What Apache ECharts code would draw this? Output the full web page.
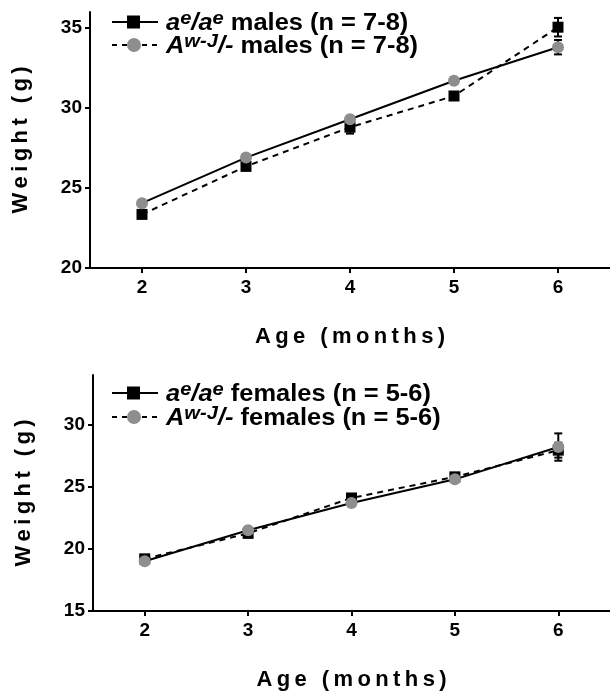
<!DOCTYPE html>
<html>
<head>
<meta charset="utf-8">
<script src="https://cdn.jsdelivr.net/npm/echarts@6/dist/echarts.min.js"></script>
<style>
  html, body { margin: 0; padding: 0; background: #fff; }
  #main { width: 610px; height: 692px; }
</style>
</head>
<body>
<div id="main"></div>
<script>
// ages in months
var ages = [2, 3, 4, 5, 6];

// males (n = 7-8)
var maleAe = [23.35, 26.35, 28.8, 30.75, 35.05];
var maleAeErr = [0.2, 0.2, 0.4, 0.2, 0.58];
var maleAwj = [24.05, 26.9, 29.3, 31.7, 33.8];
var maleAwjErr = [0.2, 0.2, 0.2, 0.2, 0.45];

// females (n = 5-6)
var femaleAe = [19.2, 21.25, 24.1, 25.8, 27.95];
var femaleAeErr = [0.2, 0.2, 0.2, 0.2, 0.6];
var femaleAwj = [19.0, 21.5, 23.7, 25.6, 28.2];
var femaleAwjErr = [0.2, 0.2, 0.2, 0.2, 1.1];

var xTicks = [2, 3, 4, 5, 6];
var maleYTicks = [20, 25, 30, 35];
var femaleYTicks = [15, 20, 25, 30];

var FONT = 'Liberation Sans';
var GREY = '#8e8e8e';

function pairs(ys) {
  return ages.map(function (a, i) { return [a, ys[i]]; });
}
function errData(ys, errs) {
  return ages.map(function (a, i) { return [a, ys[i] - errs[i], ys[i] + errs[i]]; });
}

function errorSeries(gi, ys, errs) {
  return {
    type: 'custom',
    xAxisIndex: gi, yAxisIndex: gi,
    z: 3,
    data: errData(ys, errs),
    renderItem: function (params, api) {
      var lo = api.coord([api.value(0), api.value(1)]);
      var hi = api.coord([api.value(0), api.value(2)]);
      var w = 4;
      var st = { stroke: '#000', lineWidth: 2 };
      return {
        type: 'group',
        children: [
          { type: 'line', shape: { x1: lo[0], y1: lo[1], x2: hi[0], y2: hi[1] }, style: st },
          { type: 'line', shape: { x1: lo[0] - w, y1: lo[1], x2: lo[0] + w, y2: lo[1] }, style: st },
          { type: 'line', shape: { x1: hi[0] - w, y1: hi[1], x2: hi[0] + w, y2: hi[1] }, style: st }
        ]
      };
    }
  };
}

function lineSeries(gi, ys, dashed) {
  return {
    type: 'line',
    xAxisIndex: gi, yAxisIndex: gi,
    data: pairs(ys),
    symbol: 'none',
    z: 2,
    lineStyle: { color: '#000', width: 2, type: dashed ? [6, 5] : 'solid' },
    silent: true
  };
}

function markerSeries(gi, ys, square) {
  return {
    type: 'scatter',
    xAxisIndex: gi, yAxisIndex: gi,
    data: pairs(ys),
    symbol: square ? 'rect' : 'circle',
    symbolSize: square ? 11 : 12,
    z: square ? 4 : 5,
    itemStyle: { color: square ? '#000' : GREY, opacity: 1 }
  };
}

function xAxis(gi) {
  return {
    type: 'value', gridIndex: gi, min: 1.5, max: 6.5,
    name: 'A\u2009g\u2009e\u2009 \u2009(\u2009m\u2009o\u2009n\u2009t\u2009h\u2009s\u2009)',
    nameLocation: 'middle', nameGap: 58,
    nameTextStyle: { fontFamily: FONT, fontWeight: 'bold', fontSize: 22, color: '#000' },
    axisLine: { onZero: false, lineStyle: { color: '#000', width: 2 } },
    axisTick: { show: true, length: 5, lineStyle: { color: '#000', width: 2 }, customValues: xTicks },
    axisLabel: { fontFamily: FONT, fontWeight: 'bold', fontSize: 19, color: '#000', margin: 10, customValues: xTicks },
    splitLine: { show: false }
  };
}

function yAxis(gi, min, max, ticks) {
  return {
    type: 'value', gridIndex: gi, min: min, max: max,
    name: 'W\u2009e\u2009i\u2009g\u2009h\u2009t\u2009 \u2009(\u2009g\u2009)',
    nameLocation: 'middle', nameGap: 58, nameRotate: 90,
    nameTextStyle: { fontFamily: FONT, fontWeight: 'bold', fontSize: 22, color: '#000' },
    axisLine: { show: true, onZero: false, lineStyle: { color: '#000', width: 2 } },
    axisTick: { show: true, length: 5, lineStyle: { color: '#000', width: 2 }, customValues: ticks },
    axisLabel: { fontFamily: FONT, fontWeight: 'bold', fontSize: 19, color: '#000', margin: 8, customValues: ticks },
    splitLine: { show: false }
  };
}

var rich = {
  i: { fontFamily: FONT, fontWeight: 'bold', fontStyle: 'italic', fontSize: 24, color: '#000' },
  s: { fontFamily: FONT, fontWeight: 'bold', fontStyle: 'italic', fontSize: 19, color: '#000', padding: [0, 0, 9, 0] },
  t: { fontFamily: FONT, fontWeight: 'bold', fontSize: 24, color: '#000' }
};

function legendRow(y, dashed, square, text) {
  var items = [
    { type: 'line', shape: { x1: 112, y1: y, x2: 158, y2: y },
      style: { stroke: '#000', lineWidth: 2, lineDash: dashed ? [5, 5] : null } }
  ];
  if (square) {
    items.push({ type: 'rect', shape: { x: 127, y: y - 6.5, width: 13, height: 13 }, style: { fill: '#000' } });
  } else {
    items.push({ type: 'circle', shape: { cx: 134, cy: y, r: 7 }, style: { fill: GREY } });
  }
  items.push({ type: 'text', x: 166, y: y + 1, scaleX: 1.06,
    style: { text: text, rich: rich, verticalAlign: 'middle', align: 'left' } });
  return items;
}

var graphics = []
  .concat(legendRow(22, false, true, '{i|a}{s|e}{i|/a}{s|e}{t| males (n = 7-8)}'))
  .concat(legendRow(45, true, false, '{i|A}{s|w-J}{i|/-}{t| males (n = 7-8)}'))
  .concat(legendRow(393, false, true, '{i|a}{s|e}{i|/a}{s|e}{t| females (n = 5-6)}'))
  .concat(legendRow(417, true, false, '{i|A}{s|w-J}{i|/-}{t| females (n = 5-6)}'));

var chart = echarts.init(document.getElementById('main'), null, { renderer: 'canvas' });
var option = {
  backgroundColor: '#fff',
  animation: false,
  grid: [
    { left: 90, right: 0, top: 12, height: 256 },
    { left: 93, right: 0, top: 375, height: 243 }
  ],
  xAxis: [xAxis(0), xAxis(1)],
  yAxis: [yAxis(0, 20, 36, maleYTicks), yAxis(1, 15, 34, femaleYTicks)],
  // the picture draws the solid line through the grey circles and the dashed one through the squares
  series: [
    lineSeries(0, maleAwj, false),
    lineSeries(0, maleAe, true),
    errorSeries(0, maleAe, maleAeErr),
    errorSeries(0, maleAwj, maleAwjErr),
    markerSeries(0, maleAe, true),
    markerSeries(0, maleAwj, false),
    lineSeries(1, femaleAwj, false),
    lineSeries(1, femaleAe, true),
    errorSeries(1, femaleAe, femaleAeErr),
    errorSeries(1, femaleAwj, femaleAwjErr),
    markerSeries(1, femaleAe, true),
    markerSeries(1, femaleAwj, false)
  ],
  graphic: graphics
};
chart.setOption(option);
</script>
</body>
</html>
